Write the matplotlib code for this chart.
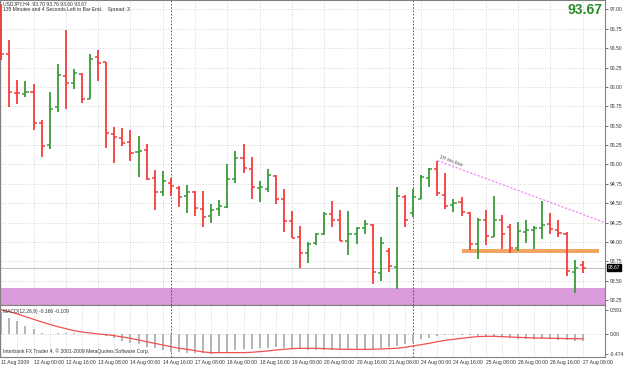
import numpy as np
import matplotlib
matplotlib.use("Agg")
import matplotlib.pyplot as plt

plt.rcParams["font.family"] = ["Liberation Sans", "DejaVu Sans"]

# USDJPY H4 bars, 11 Aug 2009 08:00 .. 27 Aug 2009 08:00
opens = [96.95, 96.42, 95.925, 95.91, 95.93, 95.53, 95.25, 95.74, 96.14, 96.05,
         96.17, 95.85, 96.38, 96.32, 95.39, 95.34, 95.29, 95.16, 95.19, 94.82,
         94.64, 94.76, 94.70, 94.60, 94.65, 94.42, 94.33, 94.42, 94.45, 94.81,
         95.09, 94.94, 94.70, 94.69, 94.85, 94.55, 94.27, 94.06, 93.86, 93.99,
         94.10, 94.36, 94.28, 94.01, 94.10, 94.18, 94.22, 93.60, 93.88, 93.675,
         94.585, 94.38, 94.555, 94.83, 94.94, 94.61, 94.48, 94.52, 94.38, 93.98,
         94.28, 94.07, 94.29, 94.19, 93.93, 94.13, 94.155, 94.18, 94.23, 94.155,
         94.10, 93.61, 93.70]
highs = [97.07, 96.60, 96.09, 96.08, 96.04, 95.57, 95.94, 96.30, 96.73, 96.23,
         96.18, 96.42, 96.47, 96.32, 95.48, 95.47, 95.44, 95.37, 95.26, 94.93,
         94.91, 94.83, 94.72, 94.74, 94.66, 94.66, 94.49, 94.54, 95.00, 95.18,
         95.26, 95.10, 94.79, 94.94, 94.86, 94.69, 94.40, 94.21, 94.005, 94.12,
         94.39, 94.53, 94.41, 94.40, 94.19, 94.28, 94.23, 94.06, 93.92, 94.71,
         94.61, 94.68, 94.87, 94.95, 95.05, 94.89, 94.56, 94.58, 94.39, 94.31,
         94.41, 94.60, 94.35, 94.23, 94.26, 94.28, 94.21, 94.53, 94.37, 94.28,
         94.13, 93.77, 93.76]
lows = [96.35, 95.745, 95.78, 95.87, 95.45, 95.10, 95.20, 95.68, 95.72, 95.97,
        95.79, 95.84, 96.08, 95.21, 95.02, 95.24, 95.04, 94.84, 94.80, 94.41,
        94.59, 94.59, 94.45, 94.38, 94.33, 94.19, 94.25, 94.33, 94.44, 94.76,
        94.89, 94.56, 94.52, 94.65, 94.49, 94.13, 94.05, 93.66, 93.73, 93.96,
        94.09, 94.20, 94.02, 93.83, 93.98, 94.11, 93.46, 93.50, 93.61, 93.40,
        94.20, 94.32, 94.55, 94.71, 94.60, 94.43, 94.39, 94.34, 93.90, 93.78,
        93.96, 94.06, 93.91, 93.86, 93.88, 93.99, 93.91, 94.04, 94.10, 94.06,
        93.56, 93.35, 93.60]
closes = [96.43, 95.94, 95.92, 95.93, 95.53, 95.24, 95.72, 96.15, 96.05, 96.18,
          95.85, 96.36, 96.31, 95.41, 95.35, 95.28, 95.15, 95.17, 94.81, 94.65,
          94.79, 94.72, 94.58, 94.65, 94.44, 94.32, 94.41, 94.46, 94.81, 95.09,
          94.96, 94.71, 94.705, 94.86, 94.56, 94.27, 94.05, 93.86, 93.98, 94.10,
          94.36, 94.29, 94.02, 94.11, 94.18, 94.23, 93.61, 93.99, 93.69, 94.60,
          94.28, 94.585, 94.84, 94.94, 94.63, 94.46, 94.50, 94.39, 93.97, 94.28,
          94.08, 94.28, 94.10, 93.92, 94.14, 94.155, 94.185, 94.22, 94.165, 94.12,
          93.63, 93.67, 93.67]

macd_hist = [0.54, 0.38, 0.33, 0.21, 0.12, 0.03, 0.01, 0.02, 0.03, 0.02,
             0.00, 0.01, 0.00, -0.04, -0.10, -0.15, -0.20, -0.24, -0.30, -0.32,
             -0.38, -0.42, -0.43, -0.44, -0.46, -0.46, -0.47, -0.46, -0.42, -0.38,
             -0.36, -0.35, -0.34, -0.32, -0.31, -0.32, -0.34, -0.36, -0.37, -0.38,
             -0.38, -0.38, -0.38, -0.38, -0.38, -0.38, -0.36, -0.34, -0.31, -0.28,
             -0.24, -0.20, -0.12, -0.08, -0.04, -0.025, -0.017, -0.017, -0.025, -0.04,
             -0.057, -0.057, -0.073, -0.089, -0.105, -0.113, -0.12, -0.12, -0.12, -0.129,
             -0.137, -0.153, -0.166]
macd_signal = [0.584, 0.544, 0.488, 0.424, 0.360, 0.296, 0.240, 0.183, 0.135, 0.087,
               0.055, 0.031, 0.007, -0.009, -0.033, -0.065, -0.097, -0.137, -0.177, -0.217,
               -0.257, -0.297, -0.337, -0.361, -0.393, -0.425, -0.441, -0.441, -0.441, -0.441,
               -0.441, -0.433, -0.417, -0.401, -0.377, -0.361, -0.345, -0.337, -0.337, -0.337,
               -0.345, -0.353, -0.361, -0.361, -0.361, -0.361, -0.361, -0.353, -0.345, -0.337,
               -0.313, -0.281, -0.249, -0.217, -0.177, -0.145, -0.121, -0.097, -0.073, -0.057,
               -0.049, -0.049, -0.057, -0.065, -0.073, -0.081, -0.089, -0.089, -0.097, -0.097,
               -0.105, -0.105, -0.109]

price_ticks = [93.25, 93.50, 93.75, 94.00, 94.25, 94.50, 94.75, 95.00, 95.25,
               95.50, 95.75, 96.00, 96.25, 96.50, 96.75, 97.00]
date_ticks = [0, 4, 8, 12, 16, 20, 24, 28, 32, 36, 40, 44, 48, 52, 56, 60, 64, 68, 72]
date_labels = ["11 Aug 2009", "12 Aug 00:00", "12 Aug 16:00", "13 Aug 08:00",
               "14 Aug 00:00", "14 Aug 16:00", "17 Aug 08:00", "18 Aug 00:00",
               "18 Aug 16:00", "19 Aug 08:00", "20 Aug 00:00", "20 Aug 16:00",
               "21 Aug 08:00", "24 Aug 00:00", "24 Aug 16:00", "25 Aug 08:00",
               "26 Aug 00:00", "26 Aug 16:00", "27 Aug 08:00"]
week_breaks = [21, 51]
macd_levels = [0.591, 0.0, -0.474]

# drawn objects on the chart
support_zone = (93.18, 93.41)
resist_box = (57.05, 74.0, 93.856, 93.911)
res_line = [(54, 95.05), (67, 94.55)]
bid = 93.67

W, H = 625, 366
RED = "#f33c3c"
GREEN = "#3a9a3a"
GRID = "#c8c8c8"
SMALL = 3.6


def frac(x0, y0, x1, y1):
    return [x0 / W, 1 - y1 / H, (x1 - x0) / W, (y1 - y0) / H]


fig = plt.figure(figsize=(W / 100, H / 100), dpi=100)
fig.patch.set_facecolor("white")

ax = fig.add_axes(frac(0, 0, 605, 305))
ax2 = fig.add_axes(frac(0, 305, 605, 357), sharex=ax)

n = len(closes)
x = np.arange(n)
o = np.array(opens)
h = np.array(highs)
l = np.array(lows)
c = np.array(closes)
cols = [GREEN if cc >= oo else RED for oo, cc in zip(o, c)]

ax.set_xlim(-0.151, 74.76)
ax.set_ylim(93.189, 97.12)

ax.axhspan(*support_zone, color="#d99bd9", lw=0, zorder=1)
ax.fill_between(resist_box[:2], resist_box[2], resist_box[3], color="#f2a462", lw=0, zorder=1)
ax.axhline(bid, color="#c4c4c4", lw=0.8, zorder=1.5)

ax.vlines(x, l, h, colors=cols, lw=1.3, zorder=3)
ax.hlines(o, x - 0.38, x, colors=cols, lw=1.1, zorder=3)
ax.hlines(c, x, x + 0.38, colors=cols, lw=1.1, zorder=3)

# 1H resistance ray, extended to the right edge
(x0, y0), (x1, y1) = res_line
slope = (y1 - y0) / (x1 - x0)
xe = ax.get_xlim()[1]
ax.plot([x0, xe], [y0, y0 + slope * (xe - x0)], color="#f07af0", lw=0.8,
        ls=(0, (2, 1.5)), zorder=2)
ax.text(x0 + 0.2, y0 + 0.02, "1H res line", rotation=-21, rotation_mode="anchor",
        fontsize=SMALL, color="#555555", ha="left", va="bottom")

for a in (ax, ax2):
    for b in week_breaks:
        a.axvline(b, color="#404040", lw=0.6, ls=(0, (2, 2)), zorder=2)
    for s in a.spines.values():
        s.set_color("#808080")
        s.set_linewidth(0.8)
    a.set_facecolor("white")

ax.yaxis.tick_right()
ax.set_yticks(price_ticks)
ax.set_yticklabels([f"{p:.2f}" for p in price_ticks])
ax.set_xticks(np.arange(0, n + 1, 2))
ax.tick_params(axis="x", length=0, labelbottom=False)
ax.tick_params(axis="y", length=2, width=0.5, labelsize=SMALL, pad=1.5, colors="#333333")
ax.grid(True, color=GRID, ls=(0, (1, 2)), lw=0.6, zorder=0)
ax.set_axisbelow(True)

ax.annotate(f"{bid:.2f}", xy=(1.0, bid), xycoords=("axes fraction", "data"),
            xytext=(2, 0), textcoords="offset points", fontsize=SMALL, color="white",
            va="center", ha="left",
            bbox=dict(boxstyle="square,pad=0.15", fc="black", ec="black"))

# MACD panel
ax2.set_ylim(-0.546, 0.704)
ax2.vlines(x, 0, macd_hist, colors="#a8a8a8", lw=1.2, zorder=2)
ax2.plot(x, macd_signal, color="#f05050", lw=0.9, zorder=3)
ax2.axhline(0, color=GRID, ls=(0, (1, 2)), lw=0.6, zorder=0)
ax2.yaxis.tick_right()
ax2.set_yticks(macd_levels)
ax2.set_yticklabels(["0.591", "0.00", "-0.474"])
ax2.set_xticks(date_ticks)
ax2.set_xticklabels(date_labels, ha="left")
ax2.set_xticks(np.arange(0, n + 1, 2), minor=True)
ax2.tick_params(axis="x", which="both", length=0, labelsize=SMALL, pad=2.5, colors="#333333")
ax2.tick_params(axis="y", length=2, width=0.5, labelsize=SMALL, pad=1.5, colors="#333333")
ax2.grid(True, axis="x", which="both", color=GRID, ls=(0, (1, 2)), lw=0.6, zorder=0)
ax2.set_axisbelow(True)

ax2.text(0.005, 0.93, "MACD(12,26,9) -0.166 -0.109", transform=ax2.transAxes,
         fontsize=SMALL, color="#333333", va="top", ha="left")
ax2.text(0.005, 0.06, "Interbank FX Trader 4, \u00a9 2001-2009 MetaQuotes Software Corp.",
         transform=ax2.transAxes, fontsize=SMALL, color="#333333", va="bottom", ha="left")

fig.text(3 / W, 1 - 4 / H, "USDJPY,H4  93.70 93.76 93.60 93.67", fontsize=SMALL,
         color="#333333", va="center", ha="left")
fig.text(3 / W, 1 - 10 / H, "135 Minutes and 4 Seconds Left to Bar End.    Spread: 3",
         fontsize=SMALL, color="#333333", va="center", ha="left")
fig.text(603 / W, 1 - 10 / H, f"{closes[-1]:.2f}", fontsize=10, fontweight="bold",
         color="#2a8a2a", va="center", ha="right")

fig.savefig("out.png", dpi=100)
